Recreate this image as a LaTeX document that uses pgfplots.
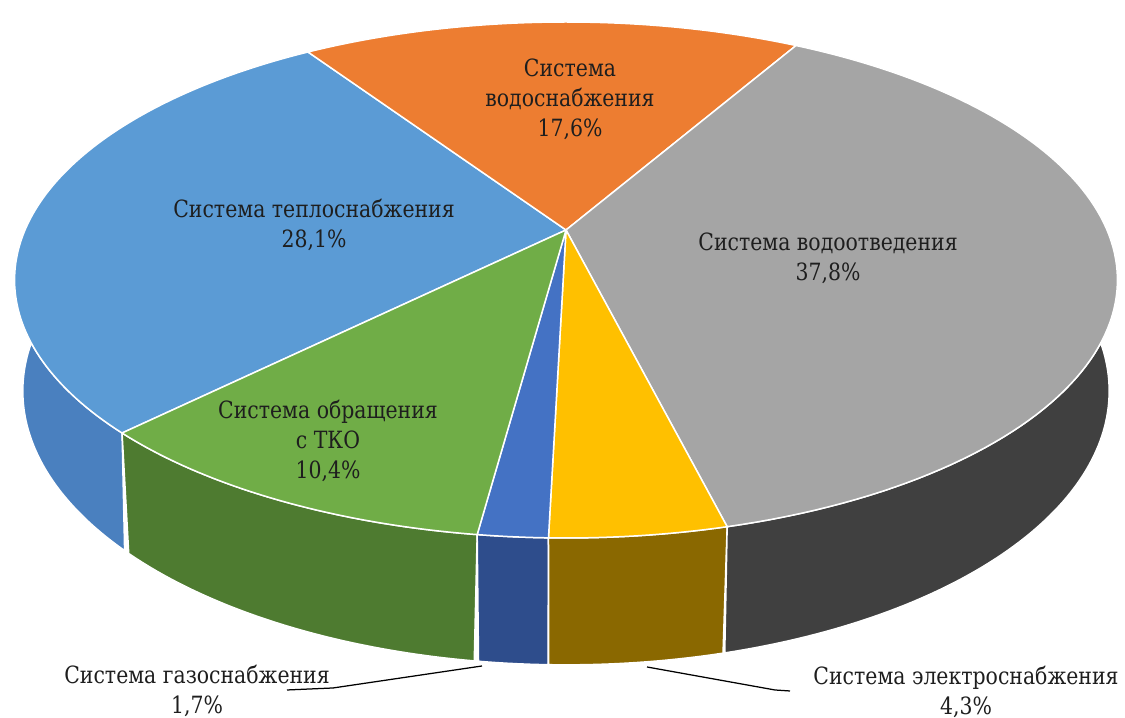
\documentclass[border=0pt]{standalone}
\usepackage{pgfplots}
\pgfplotsset{compat=1.18}
\usepackage{fontspec}
\setmainfont{DejaVu Serif}
\newfontfamily\labfont{DejaVu Serif}[FakeStretch=0.86]
\definecolor{cBlue}{HTML}{5B9BD5}
\definecolor{cOrange}{HTML}{ED7D31}
\definecolor{cGray}{HTML}{A5A5A5}
\definecolor{cGold}{HTML}{FFC000}
\definecolor{cDBlue}{HTML}{4472C4}
\definecolor{cGreen}{HTML}{70AD47}
\definecolor{sBlue}{HTML}{4A80BF}
\definecolor{sGray}{HTML}{404040}
\definecolor{sGold}{HTML}{8A6800}
\definecolor{sDBlue}{HTML}{2E4D8C}
\definecolor{sGreen}{HTML}{4E7B30}
\definecolor{txt}{HTML}{1E1E1E}
% side of a slice: colour, from angle, to angle
\newcommand\side[3]{%
\addplot[fill=#1, draw=white, line width=0.6pt, samples at={0,1,...,200}, variable=\s]
  ({\s<=100 ? topx((#2)+((#3)-(#2))*\s/100) : botx((#3)-((#3)-(#2))*(\s-100)/100)},
   {\s<=100 ? topy((#2)+((#3)-(#2))*\s/100) : boty((#3)-((#3)-(#2))*(\s-100)/100)}) -- cycle;}
% top face of a slice: colour, from angle, to angle
\newcommand\topslice[3]{%
\addplot[fill=#1, draw=white, line width=0.6pt, samples at={-1,0,...,101}, variable=\s]
  ({(\s<0 || \s>100) ? 566 : topx((#2)+((#3)-(#2))*\s/100)},
   {(\s<0 || \s>100) ? 488 : topy((#2)+((#3)-(#2))*\s/100)});}
\begin{document}
\begin{tikzpicture}
% shares, per cent (clockwise from the blue slice)
\def\vTeplo{28.1}\def\vVoda{17.6}\def\vOtv{37.8}\def\vEl{4.3}\def\vGaz{1.7}\def\vTko{10.4}
\pgfmathsetmacro{\dg}{360/(\vTeplo+\vVoda+\vOtv+\vEl+\vGaz+\vTko)}
\pgfmathsetmacro{\Bz}{224.9}
\pgfmathsetmacro{\Ba}{\Bz-\vTeplo*\dg}
\pgfmathsetmacro{\Bb}{\Ba-\vVoda*\dg}
\pgfmathsetmacro{\Bc}{\Bb-\vOtv*\dg}
\pgfmathsetmacro{\Bd}{\Bc-\vEl*\dg}
\pgfmathsetmacro{\Be}{\Bd-\vGaz*\dg}
\pgfmathsetmacro{\Bf}{\Be-\vTko*\dg}
\begin{axis}[hide axis, scale only axis, x=0.4pt, y=0.4pt,
  xmin=0, xmax=1125, ymin=0, ymax=718, clip=false,
  declare function={
    topx(\t)=566+541*cos(\t)/(1+0.1938*sin(\t));
    topy(\t)=488+248.3*sin(\t)/(1+0.1938*sin(\t));
    botx(\t)=566+532.9*cos(\t)/(1+0.1938*sin(\t));
    boty(\t)=488+(242.6*sin(\t)-108)/(1+0.1938*sin(\t));
  }]
% ---- sides ----
\side{sBlue}{160}{\Bz}
\side{sGreen}{\Bf}{\Be}
\side{sDBlue}{\Be}{\Bd}
\side{sGold}{\Bd}{\Bc}
\side{sGray}{\Bc}{20}
% ---- top faces ----
\topslice{cBlue}{\Ba}{\Bz}
\topslice{cOrange}{\Bb}{\Ba}
\topslice{cGray}{\Bc}{\Bb}
\topslice{cGold}{\Bd}{\Bc}
\topslice{cDBlue}{\Be}{\Bd}
\topslice{cGreen}{\Bf}{\Be}
% ---- leader lines ----
\addplot[black, line width=0.5pt] coordinates {(287,28) (333,30) (482,52)};
\addplot[black, line width=0.5pt] coordinates {(647,51) (775,28) (790,27)};
% ---- labels ----
\begin{scope}[every node/.style={align=center, text=txt, font=\labfont\fontsize{9.5}{12}\selectfont}]
\node at (axis cs:570,619) {Система\\водоснабжения\\17,6\%};
\node at (axis cs:314,493) {Система теплоснабжения\\28,1\%};
\node at (axis cs:828,460) {Система водоотведения\\37,8\%};
\node at (axis cs:328,277) {Система обращения\\с ТКО\\10,4\%};
\node at (axis cs:197,27) {Система газоснабжения\\1,7\%};
\node at (axis cs:966,26) {Система электроснабжения\\4,3\%};
\end{scope}
\end{axis}
\pgfresetboundingbox
\path (current axis.south west) rectangle (current axis.north east);
\end{tikzpicture}
\end{document}
